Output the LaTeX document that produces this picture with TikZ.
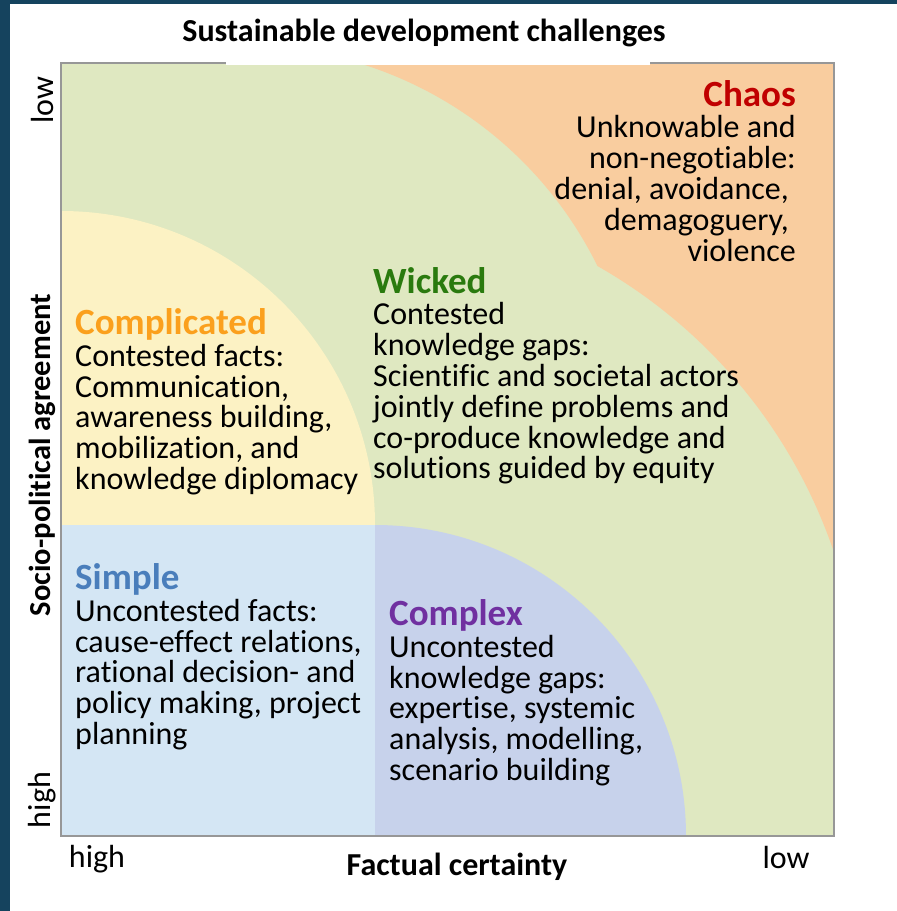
\documentclass[tikz,border=0pt]{standalone}
\usepackage{fontspec}
\setmainfont{Carlito}[Ligatures=NoCommon]
\usepackage{tikz}
\usetikzlibrary{positioning}
\definecolor{frame}{HTML}{15435E}
\definecolor{rim}{HTML}{979797}
\definecolor{wickedbg}{HTML}{DFE8C1}
\definecolor{chaosbg}{HTML}{F9CD9F}
\definecolor{complbg}{HTML}{FCF2C4}
\definecolor{simplebg}{HTML}{D4E6F4}
\definecolor{complexbg}{HTML}{C7D2EB}
\definecolor{chaostxt}{HTML}{C00000}
\definecolor{wickedtxt}{HTML}{2A7A0E}
\definecolor{compltxt}{HTML}{FBA01D}
\definecolor{simpletxt}{HTML}{4A7EBB}
\definecolor{complextxt}{HTML}{7030A0}
\newcommand{\regionhead}[2]{\rule{0pt}{29pt}\textcolor{#1}{\fontsize{37}{30.8}\bfseries\selectfont #2}}

\begin{document}
\begin{tikzpicture}[
  x=1pt,y=-1pt,
  body/.style={inner sep=0pt,align=left,font=\fontsize{32}{30.8}\selectfont},
  axis/.style={inner sep=0pt,font=\fontsize{32}{32}\selectfont},
  axisb/.style={inner sep=0pt,font=\fontsize{32}{32}\bfseries\selectfont}
]
  \useasboundingbox (0,0) rectangle (897,911);
  \fill[frame] (0,0) rectangle (10,911);
  \fill[frame] (0,0) rectangle (897,4);

  \fill[wickedbg] (61,63) rectangle (834,836);
  \fill[chaosbg] (358.5,63) arc[start angle=73.1,end angle=26.2,radius=394pt]
    arc[start angle=60.4,end angle=18.9,radius=522pt] -- (834,63) -- cycle;
  \fill[complbg] (61,525) -- (61,211) arc[start angle=90,end angle=0,radius=314pt] -- cycle;
  \fill[simplebg] (61,525) rectangle (375,836);
  \fill[complexbg] (375,836) -- (375,525) arc[start angle=90,end angle=0,radius=311pt] -- cycle;
  \draw[rim,line width=2.5pt] (61,63) rectangle (834,836);
  \fill[white] (226,40) rectangle (650,65);

  \node[axisb,anchor=base] (title) at (424,41) {Sustainable development challenges};

  \node[body,anchor=north east,align=right] (chaos) at (796,77)
    {\regionhead{chaostxt}{Chaos}\\[0.8pt]Unknowable and\\non-negotiable:\\denial, avoidance,\kern7pt\\demagoguery,\kern7pt\\violence};
  \node[body,anchor=north west] (wicked) at (373,264)
    {\regionhead{wickedtxt}{Wicked}\\[0.8pt]Contested\\knowledge gaps:\\Scientific and societal actors\\jointly define problems and\\co-produce knowledge and\\solutions guided by equity};
  \node[body,anchor=north west] (complicated) at (75,305.5)
    {\regionhead{compltxt}{Complicated}\\[0.8pt]Contested facts:\\Communication,\\awareness building,\\mobilization, and\\knowledge diplomacy};
  \node[body,anchor=north west] (simple) at (75,560.5)
    {\regionhead{simpletxt}{Simple}\\[0.8pt]Uncontested facts:\\cause-effect relations,\\rational decision- and\\policy making, project\\planning};
  \node[body,anchor=north west] (complex) at (389,596.5)
    {\regionhead{complextxt}{Complex}\\[0.8pt]Uncontested\\knowledge gaps:\\expertise, systemic\\analysis, modelling,\\scenario building};

  \node[axis,rotate=90] (ylow) at (42,100) {low};
  \node[axis,rotate=90] (yhigh) at (42,800) {high};
  \node[axisb,rotate=90,font=\fontsize{30.5}{31}\bfseries\selectfont] (ylab) at (42,455) {Socio-political agreement};
  \node[axis,anchor=base] (xhigh) at (97,867) {high};
  \node[axis,anchor=base] (xlow) at (786,868) {low};
  \node[axisb,anchor=base] (xlab) at (457,875) {Factual certainty};
\end{tikzpicture}
\end{document}
